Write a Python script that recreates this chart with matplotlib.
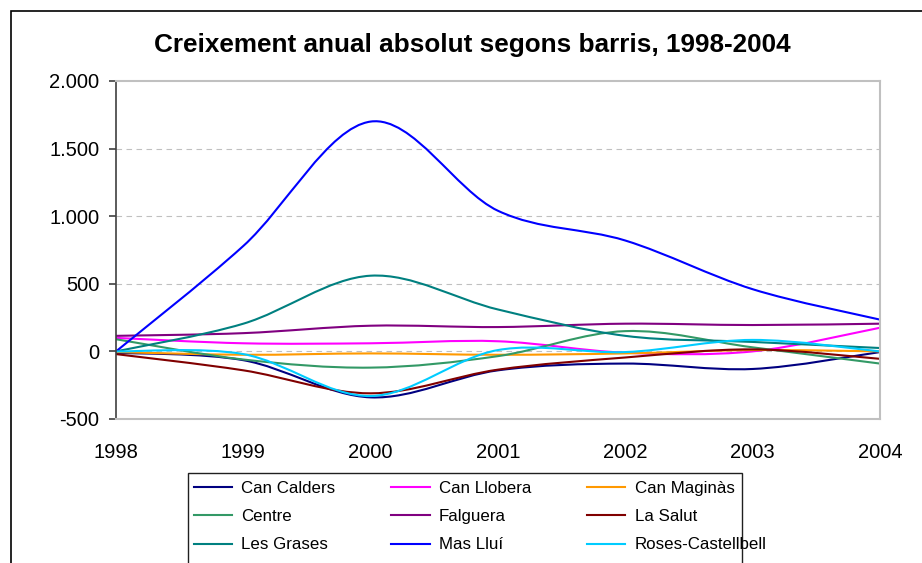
import numpy as np
import matplotlib
matplotlib.use('Agg')
import matplotlib.pyplot as plt
from matplotlib.path import Path
from matplotlib.patches import PathPatch, Rectangle
from matplotlib.lines import Line2D
from matplotlib.ticker import FuncFormatter

plt.rcParams['font.family'] = ['Liberation Sans', 'DejaVu Sans']

# data: annual absolute growth per neighbourhood
years = [1998, 1999, 2000, 2001, 2002, 2003, 2004]
can_calders = [-10, -65, -340, -140, -90, -130, -5]
can_llobera = [100, 60, 60, 75, -10, 0, 175]
can_maginas = [-5, -25, -15, -25, -15, 10, 0]
centre = [90, -60, -120, -35, 150, 30, -90]
falguera = [115, 135, 190, 180, 205, 195, 205]
la_salut = [-20, -140, -310, -135, -45, 15, -55]
les_grases = [0, 205, 560, 310, 115, 70, 25]
mas_llui = [0, 780, 1700, 1040, 820, 460, 235]
roses_castellbell = [0, -20, -330, 10, -5, 85, 0]

names = ['Can Calders', 'Can Llobera', 'Can Maginàs', 'Centre', 'Falguera',
         'La Salut', 'Les Grases', 'Mas Lluí', 'Roses-Castellbell']
series = [can_calders, can_llobera, can_maginas, centre, falguera,
          la_salut, les_grases, mas_llui, roses_castellbell]
colors = ['#000080', '#FF00FF', '#FF9900', '#339966', '#800080',
          '#800000', '#008080', '#0000FF', '#00CCFF']

y_ticks = [-500, 0, 500, 1000, 1500, 2000]
title = 'Creixement anual absolut segons barris, 1998-2004'


def smooth_path(xs, ys):
    # excel-like smoothed line: bezier segments through the data points
    pts = np.column_stack([xs, ys]).astype(float)
    n = len(pts)
    verts = [pts[0]]
    codes = [Path.MOVETO]
    for i in range(n - 1):
        p0 = pts[max(i - 1, 0)]
        p1 = pts[i]
        p2 = pts[i + 1]
        p3 = pts[min(i + 2, n - 1)]
        verts += [p1 + (p2 - p0) / 6.0, p2 - (p3 - p1) / 6.0, p2]
        codes += [Path.CURVE4] * 3
    return Path(verts, codes)


W, H = 922, 563
fig = plt.figure(figsize=(W / 100, H / 100), dpi=100)
ax = fig.add_axes([116 / W, 1 - 419 / H, (880 - 116) / W, (419 - 81) / H])

for vals, col in zip(series, colors):
    ax.add_patch(PathPatch(smooth_path(years, vals), facecolor='none',
                           edgecolor=col, lw=1.5, capstyle='round', joinstyle='round'))

ax.set_xlim(years[0], years[-1])
ax.set_ylim(y_ticks[0], y_ticks[-1])
ax.set_xticks(years)
ax.set_yticks(y_ticks)
ax.yaxis.set_major_formatter(FuncFormatter(lambda v, p: '{:,}'.format(int(v)).replace(',', '.')))

for v in y_ticks[1:-1]:
    ax.axhline(v, color='#c0c0c0', lw=0.8, dashes=(5, 4), zorder=0)

for s in ['top', 'right', 'bottom']:
    ax.spines[s].set_color('#c0c0c0')
    ax.spines[s].set_linewidth(1.5)
ax.spines['left'].set_color('#404040')
ax.spines['left'].set_linewidth(1.2)

ax.tick_params(axis='y', length=5, width=1.2, color='#404040', labelsize=14.5, pad=7)
ax.tick_params(axis='x', length=0, labelsize=14.5, pad=17)

fig.text(472 / W, 1 - 45 / H, title, ha='center', va='center',
         fontsize=18.8, fontweight='bold')

# legend, row-major order as in the original
handles = [Line2D([], [], color=c, lw=1.5) for c in colors]
order = [0, 3, 6, 1, 4, 7, 2, 5, 8]
fig.legend([handles[i] for i in order], [names[i] for i in order], ncol=3,
           loc='upper left', bbox_to_anchor=(194 / W, 1 - 481 / H),
           frameon=False, fontsize=12.2, borderpad=0, borderaxespad=0,
           handlelength=2.25, handletextpad=0.55, columnspacing=3.3,
           labelspacing=0.78)
fig.add_artist(Rectangle((187.5 / W, -0.1), (742 - 187.5) / W, 0.1 + (563 - 473.5) / H,
                         transform=fig.transFigure, fill=False, ec='#202020', lw=1.0))

# outer chart frame
fig.add_artist(Rectangle((10.5 / W, -0.1), 1.2, 0.1 + (563 - 11.5) / H,
                         transform=fig.transFigure, fill=False, ec='black', lw=1.2))

fig.savefig('out.png', dpi=100)
